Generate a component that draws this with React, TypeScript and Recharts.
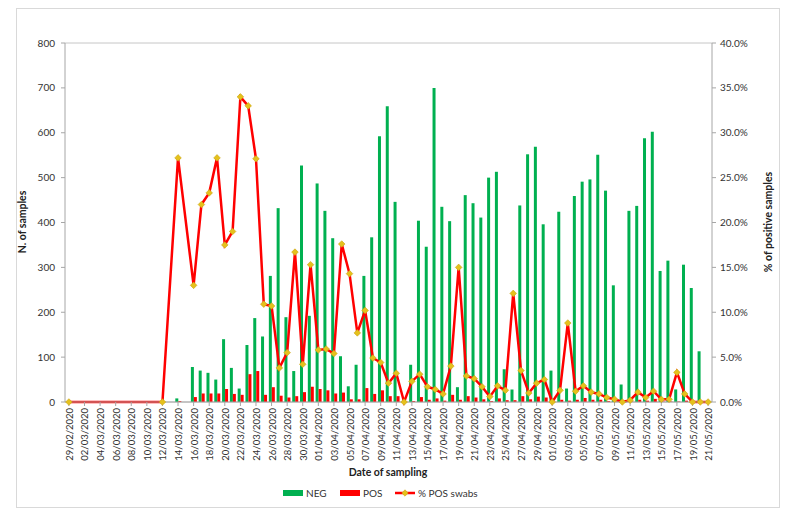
import React from 'react';
import { ComposedChart, Bar, Line, XAxis, YAxis, CartesianGrid, Legend } from 'recharts';

const dates = [
  '29/02/2020', '01/03/2020', '02/03/2020', '03/03/2020', '04/03/2020', '05/03/2020', '06/03/2020', '07/03/2020',
  '08/03/2020', '09/03/2020', '10/03/2020', '11/03/2020', '12/03/2020', '13/03/2020', '14/03/2020', '15/03/2020',
  '16/03/2020', '17/03/2020', '18/03/2020', '19/03/2020', '20/03/2020', '21/03/2020', '22/03/2020', '23/03/2020',
  '24/03/2020', '25/03/2020', '26/03/2020', '27/03/2020', '28/03/2020', '29/03/2020', '30/03/2020', '31/03/2020',
  '01/04/2020', '02/04/2020', '03/04/2020', '04/04/2020', '05/04/2020', '06/04/2020', '07/04/2020', '08/04/2020',
  '09/04/2020', '10/04/2020', '11/04/2020', '12/04/2020', '13/04/2020', '14/04/2020', '15/04/2020', '16/04/2020',
  '17/04/2020', '18/04/2020', '19/04/2020', '20/04/2020', '21/04/2020', '22/04/2020', '23/04/2020', '24/04/2020',
  '25/04/2020', '26/04/2020', '27/04/2020', '28/04/2020', '29/04/2020', '30/04/2020', '01/05/2020', '02/05/2020',
  '03/05/2020', '04/05/2020', '05/05/2020', '06/05/2020', '07/05/2020', '08/05/2020', '09/05/2020', '10/05/2020',
  '11/05/2020', '12/05/2020', '13/05/2020', '14/05/2020', '15/05/2020', '16/05/2020', '17/05/2020', '18/05/2020',
  '19/05/2020', '20/05/2020', '21/05/2020',
];

const N = null;

const negSamples = [
  0, N, N, N, N, N, N, N, N, N, N, N, 0, N, 8, N,
  78, 70, 65, 50, 140, 76, 30, 127, 187, 146, 281, 432, 189, 69, 527, 192,
  487, 426, 365, 102, 35, 83, 281, 367, 592, 659, 446, 0, 83, 404, 346, 700,
  435, 403, 33, 461, 443, 411, 500, 513, 73, 28, 438, 552, 569, 396,
  70, 424, 30, 459, 491, 496, 551, 471, 260, 39, 426, 437, 588, 602, 292, 315,
  28, 306, 254, 113, 0,
];

const posSamples = [
  0, N, N, N, N, N, N, N, N, N, N, N, 0, N, 2, N,
  11, 19, 19, 19, 29, 18, 16, 62, 69, 16, 33, 14, 10, 13, 22, 34,
  29, 26, 19, 21, 6, 6, 31, 18, 26, 13, 13, 0, 2, 11, 5, 8,
  3, 16, 5, 13, 10, 6, 2, 8, 4, 4, 13, 6, 12, 10,
  0, 5, 3, 5, 9, 5, 5, 2, 1, 0, 1, 5, 3, 7, 1, 1,
  1, 3, 0, 0, 0,
];

const posPercent = [
  0, N, N, N, N, N, N, N, N, N, N, N, 0, N, 27.2, N,
  13.0, 22.0, 23.3, 27.2, 17.5, 19.0, 34.0, 33.0, 27.1, 10.9, 10.7, 3.8, 5.5, 16.7, 4.2, 15.3,
  5.8, 5.9, 5.4, 17.6, 14.3, 7.7, 10.2, 4.9, 4.4, 2.1, 3.2, 0, 2.3, 3.1, 1.7, 1.4,
  0.9, 4.0, 15.0, 2.9, 2.6, 1.7, 0.6, 1.8, 1.3, 12.1, 3.5, 1.0, 2.1, 2.5,
  0, 1.3, 8.8, 1.2, 1.8, 1.1, 0.9, 0.5, 0.3, 0, 0.2, 1.1, 0.5, 1.2, 0.3, 0.3,
  3.3, 0.9, 0, 0, 0,
];

const leftTicks = [0, 100, 200, 300, 400, 500, 600, 700, 800];
const rightTicks = [0, 5, 10, 15, 20, 25, 30, 35, 40];

const data = dates.map((d, i) => ({
  date: d,
  NEG: negSamples[i],
  POS: posSamples[i],
  PCT: posPercent[i],
}));

const FONT = 'Lato, "Open Sans", "DejaVu Sans", sans-serif';
const GREEN = '#00b050';
const RED = '#ff0000';
const MARKER = '#e5c11c';
const TEXT = '#333333';
const AXIS = '#a6a6a6';

const XTick = (props: any) => {
  const { x, y, payload } = props;
  const bx = x + 4;
  return (
    <text
      x={bx}
      y={y}
      transform={`rotate(-90 ${bx} ${y})`}
      textAnchor="end"
      fontSize={9.5}
      fill={TEXT}
      fontFamily={FONT}
    >
      {payload.value}
    </text>
  );
};

const Diamond = (props: any) => {
  const { cx, cy, payload, index } = props;
  if (!payload || payload.PCT == null || cx == null || cy == null || isNaN(cy)) {
    return <g key={`d-${index}`} />;
  }
  const r = 3.3;
  return (
    <path
      key={`d-${index}`}
      d={`M${cx},${cy - r}L${cx + r},${cy}L${cx},${cy + r}L${cx - r},${cy}Z`}
      fill={MARKER}
      stroke="#c9a514"
      strokeWidth={0.6}
    />
  );
};

const LegendContent = () => (
  <svg width={799} height={22} style={{ display: 'block' }}>
    <rect x={283} y={8} width={20} height={6} fill={GREEN} />
    <text x={306} y={15} fontSize={10} fill={TEXT} fontFamily={FONT}>NEG</text>
    <rect x={340} y={8} width={20} height={6} fill={RED} />
    <text x={363} y={15} fontSize={10} fill={TEXT} fontFamily={FONT}>POS</text>
    <line x1={395} y1={11} x2={415} y2={11} stroke={RED} strokeWidth={2.5} />
    <path d="M405,7.8L408.2,11L405,14.2L401.8,11Z" fill={MARKER} stroke="#c9a514" strokeWidth={0.6} />
    <text x={418} y={15} fontSize={10} fill={TEXT} fontFamily={FONT}>% POS swabs</text>
  </svg>
);

export default function App() {
  return (
    <div style={{ position: 'absolute', left: 0, top: 0, width: 799, height: 521, background: '#fff' }}>
      <div
        style={{
          position: 'absolute',
          left: 16,
          top: 8,
          width: 762,
          height: 498,
          border: '1px solid #d9d9d9',
          pointerEvents: 'none',
        }}
      />
      <ComposedChart
        width={799}
        height={521}
        data={data}
        margin={{ top: 43, right: 37, bottom: 59, left: 18 }}
        barCategoryGap="15%"
        barGap={0}
        style={{ fontFamily: FONT }}
      >
        <CartesianGrid vertical={false} stroke="#c6c6c6" strokeWidth={1} />
        <XAxis
          dataKey="date"
          interval={1}
          height={60}
          tick={<XTick />}
          tickSize={4}
          tickMargin={2}
          stroke={AXIS}
          tickLine={{ stroke: AXIS }}
          axisLine={{ stroke: AXIS }}
          label={{
            content: () => (
              <text x={388} y={476} textAnchor="middle" fontSize={10.5} fontWeight="bold" fill="#222" fontFamily={FONT}>
                Date of sampling
              </text>
            ),
          }}
        />
        <YAxis
          yAxisId="left"
          width={47}
          domain={[0, 800]}
          ticks={leftTicks}
          tickSize={4}
          tickMargin={6}
          tick={{ fontSize: 10, fill: TEXT, fontFamily: FONT }}
          axisLine={{ stroke: AXIS }}
          tickLine={{ stroke: AXIS }}
          label={{
            content: () => (
              <text x={26} y={222} transform="rotate(-90 26 222)" textAnchor="middle" fontSize={10.5} fontWeight="bold" fill="#222" fontFamily={FONT}>
                N. of samples
              </text>
            ),
          }}
        />
        <YAxis
          yAxisId="right"
          orientation="right"
          width={50}
          domain={[0, 40]}
          ticks={rightTicks}
          tickFormatter={(v: number) => `${v.toFixed(1)}%`}
          tickSize={4}
          tickMargin={4}
          tick={{ fontSize: 10, fill: TEXT, fontFamily: FONT }}
          axisLine={{ stroke: AXIS }}
          tickLine={{ stroke: AXIS }}
          label={{
            content: () => (
              <text x={772} y={222} transform="rotate(-90 772 222)" textAnchor="middle" fontSize={10.5} fontWeight="bold" fill="#222" fontFamily={FONT}>
                % of positive samples
              </text>
            ),
          }}
        />
        <Legend
          layout="horizontal"
          verticalAlign="middle"
          align="center"
          wrapperStyle={{ top: 482, left: 0, width: 799 }}
          content={<LegendContent />}
        />
        <Bar yAxisId="left" dataKey="NEG" name="NEG" fill={GREEN} isAnimationActive={false} />
        <Bar yAxisId="left" dataKey="POS" name="POS" fill={RED} isAnimationActive={false} />
        <Line
          yAxisId="right"
          dataKey="PCT"
          name="% POS swabs"
          type="linear"
          stroke={RED}
          strokeWidth={2.5}
          connectNulls
          dot={Diamond}
          activeDot={false}
          isAnimationActive={false}
        />
      </ComposedChart>
    </div>
  );
}
